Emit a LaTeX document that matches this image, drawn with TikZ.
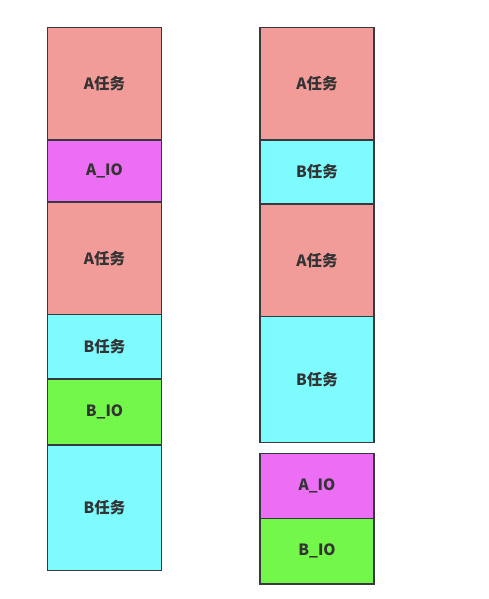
\documentclass[tikz,border=0pt]{standalone}
\usepackage{fontspec}
\setmainfont{Liberation Sans}
\newfontfamily\cjk{Noto Sans CJK SC}
\definecolor{pinkA}{HTML}{F19C99}
\definecolor{magIO}{HTML}{EC6EF5}
\definecolor{cyanB}{HTML}{7DFBFF}
\definecolor{greenIO}{HTML}{74F74B}
\definecolor{edge}{HTML}{36393D}
\definecolor{txt}{HTML}{333333}
\tikzset{
  blk/.style={draw=edge, line width=1.5pt, inner sep=0pt, outer sep=0pt, anchor=north west,
    minimum width=114pt, text=txt, font=\cjk\fontsize{15.5}{18}\selectfont\bfseries},
  ta/.style={blk, fill=pinkA},
  tb/.style={blk, fill=cyanB},
  ioa/.style={blk, fill=magIO},
  iob/.style={blk, fill=greenIO}
}
\begin{document}
\begin{tikzpicture}[x=1pt,y=-1pt]
\useasboundingbox[fill=white] (0,0) rectangle (488,599);
% left column
\node[ta, minimum height=112.5pt] (l1) at (47.5,27.5) {A任务};
\node[ioa, minimum height=62pt] (l2) at (47.5,140) {A\_IO};
\node[ta, minimum height=112.5pt] (l3) at (47.5,202) {A任务};
\node[tb, minimum height=64.5pt] (l4) at (47.5,314.5) {B任务};
\node[iob, minimum height=66pt] (l5) at (47.5,379) {B\_IO};
\node[tb, minimum height=125.5pt] (l6) at (47.5,445) {B任务};
% right column
\node[ta, minimum height=112.5pt] (r1) at (260,27.5) {A任务};
\node[tb, minimum height=64pt] (r2) at (260,140) {B任务};
\node[ta, minimum height=112.5pt] (r3) at (260,204) {A任务};
\node[tb, minimum height=126pt] (r4) at (260,316.5) {B任务};
\node[ioa, minimum height=65pt] (r5) at (260,453.5) {A\_IO};
\node[iob, minimum height=65.5pt] (r6) at (260,518.5) {B\_IO};
\end{tikzpicture}
\end{document}
